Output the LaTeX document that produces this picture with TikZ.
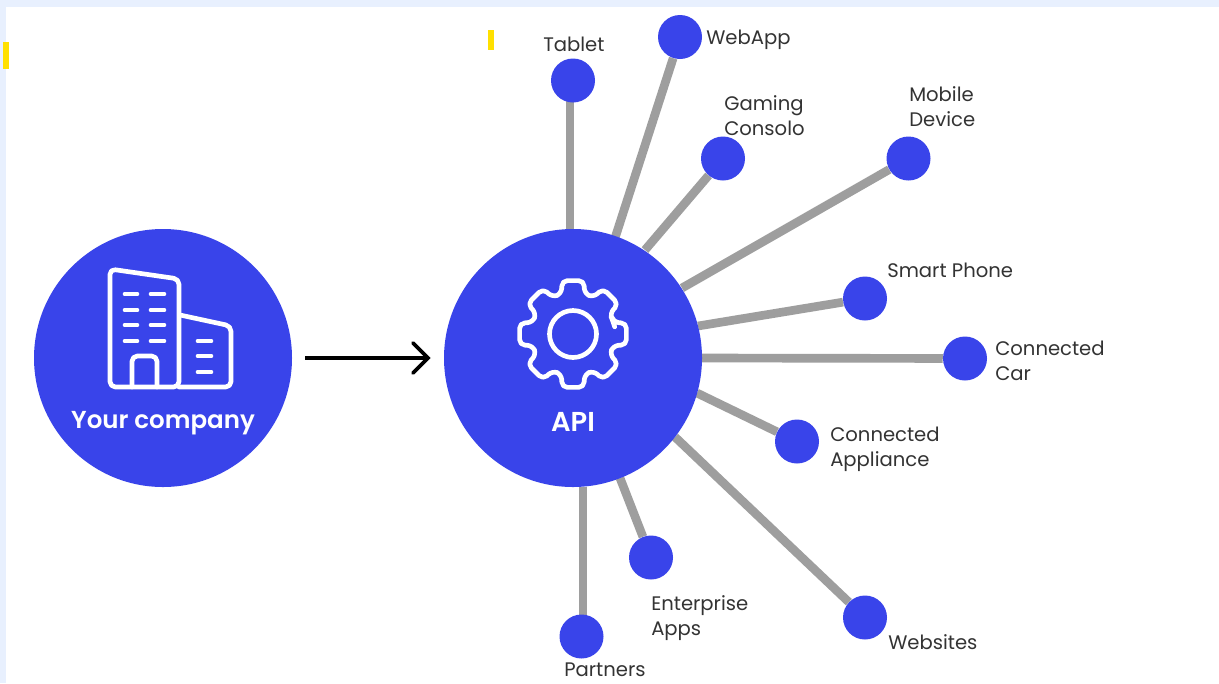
\documentclass[tikz,border=0pt]{standalone}
\usepackage{fontspec}
\usetikzlibrary{backgrounds}
\setmainfont{Poppins}
\newfontfamily\hubfont{Poppins SemiBold}
\definecolor{brand}{HTML}{3944EA}
\definecolor{spokegrey}{HTML}{9E9E9E}
\definecolor{paleband}{HTML}{E8F0FE}
\definecolor{marker}{HTML}{FFE000}
\definecolor{labelink}{HTML}{333333}
\tikzset{
  hub/.style={circle,fill=brand,minimum size=258*0.75pt,inner sep=0pt},
  leaf/.style={circle,fill=brand,minimum size=44*0.75pt,inner sep=0pt},
  spoke/.style={draw=spokegrey,line width=6.5pt},
  lbl/.style={anchor=west,inner sep=0pt,text=labelink,align=left,font=\fontsize{14.7}{18.75}\selectfont},
  hubtext/.style={text=white,inner sep=0pt,font=\hubfont\fontsize{18.4}{22}\selectfont},
  icon/.style={draw=white,line width=3.5pt,line join=round,line cap=round},
  win/.style={draw=white,line width=3.5pt,line cap=round},
  tick/.style={fill=marker,draw=none}
}
\begin{document}
\begin{tikzpicture}[x=0.75pt,y=-0.75pt]
\useasboundingbox (0,0) rectangle (1219,683);
% anchors on the API circle
\coordinate (s1) at (570,235);
\coordinate (s2) at (615,238);
\coordinate (s3) at (645,250);
\coordinate (s4) at (682,288);
\coordinate (s5) at (698,326);
\coordinate (s6) at (700,358);
\coordinate (s7) at (697,393);
\coordinate (s8) at (675,437);
\coordinate (s9) at (620,478);
\coordinate (s10) at (583,487);
% leaves
\node[leaf] (tablet) at (573,80.5) {};
\node[leaf] (webapp) at (680,37) {};
\node[leaf] (gaming) at (723,158.5) {};
\node[leaf] (mobile) at (908.5,158.5) {};
\node[leaf] (smart) at (865,298.5) {};
\node[leaf] (car) at (965,358.5) {};
\node[leaf] (appliance) at (797,441.5) {};
\node[leaf] (websites) at (865,617.5) {};
\node[leaf] (enterprise) at (651,557.5) {};
\node[leaf] (partners) at (581.5,636.5) {};
\begin{scope}[on background layer]
\fill[white] (0,0) rectangle (1219,683);
\fill[paleband] (0,0) rectangle (1219,6.5);
\fill[paleband] (0,0) rectangle (5.5,683);
\fill[tick] (3,42) rectangle (9,69);
\fill[tick] (488,30) rectangle (493.5,50);
\draw[spoke] (s1) -- (s1 |- tablet);
\draw[spoke] (s2) -- (webapp);
\draw[spoke] (s3) -- (gaming);
\draw[spoke] (s4) -- (mobile);
\draw[spoke] (s5) -- (smart);
\draw[spoke] (s6) -- (car);
\draw[spoke] (s7) -- (appliance);
\draw[spoke] (s8) -- (websites);
\draw[spoke] (s9) -- (enterprise);
\draw[spoke] (s10) -- (s10 |- partners);
\end{scope}
% hubs
\node[hub] (company) at (163,358) {};
\node[hub] (api) at (573,358) {};
% arrow
\coordinate (arrowstart) at (305,358);
\coordinate (arrowend) at (428,358);
\draw[black,line width=2.7pt] (arrowstart) -- (arrowend);
\draw[black,line width=2.7pt,line cap=round,line join=miter] ([shift={(-15,-15)}]arrowend) -- (arrowend) -- ([shift={(-15,15)}]arrowend);
% building icon
\draw[icon,rounded corners=4pt] (110,269) -- (179,279) -- (179,387) -- (110,387) -- cycle;
\draw[icon,rounded corners=4pt] (180,315) -- (231,326) -- (231,387) -- (179,387);
\draw[icon,rounded corners=4pt] (132,387) -- (132,356) -- (157,356) -- (157,387);
\foreach \y in {294,310,325,341} {
  \draw[win] (125,\y) -- (137,\y);
  \draw[win] (151,\y) -- (164,\y);
}
\foreach \y in {341,356,372} \draw[win] (198,\y) -- (211,\y);
% gear icon
\begin{scope}[shift={(573,334)}]
\draw[draw=white,line width=3.5pt,line join=round,rounded corners=4pt]
  (-17:42)
  \foreach \a in {0,45,...,315} { -- (\a-16:42) -- (\a-11.5:54.5) -- (\a+11.5:54.5) -- (\a+16:42) }
  -- cycle;
\draw[white,line width=3.5pt] (0,0) circle (23.5);
\end{scope}
% hub captions
\node[hubtext] (companytext) at (163,423.5) {Your company};
\node[hubtext,font=\hubfont\fontsize{20.5}{24}\selectfont] (apitext) at (573,421.5) {API};
% labels
\node[lbl] (ltablet) at (543,44) {Tablet};
\node[lbl] (lwebapp) at (706,39.5) {WebApp};
\node[lbl] (lgaming) at (724,116) {Gaming\\Consolo};
\node[lbl] (lmobile) at (909,107) {Mobile\\Device};
\node[lbl] (lsmart) at (887,270) {Smart Phone};
\node[lbl] (lcar) at (995,360.5) {Connected\\Car};
\node[lbl] (lappl) at (830,449.5) {Connected\\Appliance};
\node[lbl] (lent) at (651,618) {Enterprise\\Apps};
\node[lbl] (lpart) at (564,670) {Partners};
\node[lbl] (lweb) at (888,642) {Websites};
\end{tikzpicture}
\end{document}
